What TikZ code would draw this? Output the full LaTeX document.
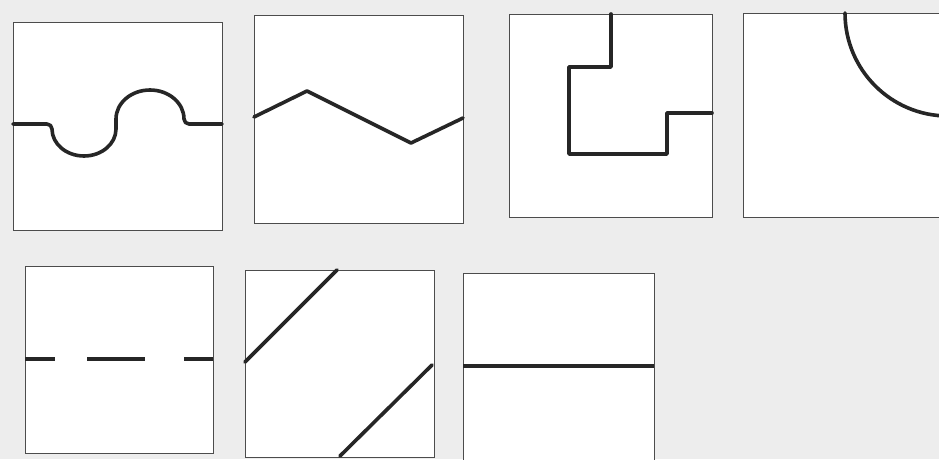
\documentclass[tikz,border=0pt]{standalone}
\begin{document}
\begin{tikzpicture}[x=1pt,y=1pt,
  framebox/.style={draw=black!70,line width=0.9pt,fill=white},
  wire/.style={draw=black!85,line width=3.6pt,line cap=round,line join=round}]
\useasboundingbox (0,0) rectangle (939,459);
\fill[black!7] (0,0) rectangle (939,459);
\clip (0,0) rectangle (939,459);
% square 1: S-shaped wave
\path[framebox] (13,229) rectangle (222,437);
\draw[wire] (13,335) -- (47,335)
  arc[start angle=90,end angle=0,radius=5]
  arc[start angle=180,end angle=360,x radius=32,y radius=27]
  -- (116,340)
  arc[start angle=180,end angle=0,x radius=34,y radius=29]
  arc[start angle=180,end angle=270,radius=5]
  -- (222,335);
% square 2: zigzag
\path[framebox] (254,236) rectangle (463,444);
\draw[wire] (254,342) -- (307,368) -- (411,316) -- (463,341);
% square 3: stepped line
\path[framebox] (509,242) rectangle (712,445);
\draw[wire] (611,445) -- (611,392) -- (569,392) -- (569,305) -- (667,305) -- (667,346) -- (712,346);
% square 4: quarter arc
\path[framebox] (743,242) rectangle (948,446);
\draw[wire] (845,446) arc[start angle=180,end angle=270,radius=103];
% square 5: dashed line
\path[framebox] (25,6) rectangle (213,193);
\draw[wire,line cap=butt] (25,100) -- (55,100);
\draw[wire,line cap=butt] (87,100) -- (145,100);
\draw[wire,line cap=butt] (184,100) -- (213,100);
% square 6: two diagonals
\path[framebox] (245,2) rectangle (434,189);
\draw[wire] (245,97) -- (337,189);
\draw[wire] (340,3) -- (432,94);
% square 7: horizontal split
\path[framebox] (463,-10) rectangle (654,186);
\draw[wire,line cap=butt] (463,93) -- (654,93);
\end{tikzpicture}
\end{document}
